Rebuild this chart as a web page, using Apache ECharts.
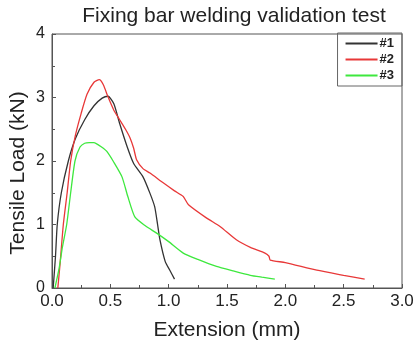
<!DOCTYPE html>
<html><head><meta charset="utf-8">
<script src="https://cdn.jsdelivr.net/npm/echarts@6/dist/echarts.min.js"></script>
<style>html,body{margin:0;padding:0;background:#fff}#c{width:415px;height:349px}</style>
</head><body><div id="c"></div>
<script>
var s1x = [0.01,0.03,0.045,0.08,0.14,0.2,0.28,0.36,0.43,0.48,0.53,0.58,0.645,0.70,0.78,0.84,0.88,0.905,0.925,0.97,1.01,1.05];
var s1y = [0,0.5,1.0,1.5,2.0,2.35,2.65,2.87,2.99,3.02,2.9,2.59,2.22,1.96,1.75,1.49,1.28,1.0,0.76,0.42,0.28,0.14];
var s2x = [0.05,0.07,0.097,0.13,0.16,0.2,0.25,0.3,0.36,0.405,0.44,0.48,0.53,0.58,0.63,0.67,0.70,0.725,0.78,0.84,0.95,1.05,1.125,1.17,1.326,1.44,1.58,1.7,1.825,1.86,1.87,2.0,2.27,2.5,2.68];
var s2y = [0,0.4,1.0,1.5,2.0,2.4,2.75,3.05,3.24,3.28,3.2,3.01,2.8,2.65,2.5,2.36,2.2,2.02,1.88,1.81,1.66,1.53,1.44,1.31,1.10,0.97,0.76,0.64,0.55,0.5,0.44,0.40,0.28,0.2,0.14];
var s3x = [0.025,0.06,0.09,0.126,0.16,0.197,0.24,0.28,0.32,0.36,0.40,0.44,0.47,0.53,0.60,0.65,0.71,0.8,0.9,1.0,1.125,1.25,1.41,1.55,1.70,1.8,1.91];
var s3y = [0,0.3,0.65,1.0,1.5,2.0,2.22,2.28,2.29,2.29,2.25,2.2,2.15,1.98,1.75,1.44,1.12,0.98,0.86,0.73,0.55,0.45,0.34,0.27,0.2,0.17,0.14];
var names = ['#1','#2','#3'];
var colors = ['#333333','#e83838','#3ee83e'];
var yTitle = 'Tensile Load (kN)';
function pairs(xs, ys){ return xs.map(function(x,i){ return [x, ys[i]]; }); }
var ff = 'Liberation Sans, Arial, sans-serif';
var chart = echarts.init(document.getElementById('c'));
chart.setOption({
  animation: false,
  title: { text: 'Fixing bar welding validation test', left: 229, textAlign: 'center', top: 1,
    textStyle: { fontFamily: ff, fontSize: 21, fontWeight: 'normal', color: '#222' } },
  grid: { left: 52, right: 13, top: 34, bottom: 61, show: true, borderColor: '#555', borderWidth: 1,
    containLabel: false, outerBoundsMode: 'none' },
  graphic: [{
    type: 'text', x: 18, y: 173, rotation: Math.PI / 2,
    style: { text: yTitle, fontFamily: ff, fontSize: 21, fill: '#222', align: 'center', verticalAlign: 'middle' }
  }],
  legend: {
    right: 13, top: 33, orient: 'vertical', itemGap: 3, itemWidth: 32, itemHeight: 2,
    icon: 'rect', borderColor: '#666', borderWidth: 1, padding: [4, 8, 4, 8],
    textStyle: { fontFamily: ff, fontSize: 13, fontWeight: 'bold', color: '#222', padding: [0,0,0,-3] },
    data: names
  },
  xAxis: {
    type: 'value', min: 0, max: 3, interval: 0.5,
    name: 'Extension (mm)', nameLocation: 'middle', nameGap: 32,
    nameTextStyle: { fontFamily: ff, fontSize: 21, color: '#222' },
    axisLine: { show: true, lineStyle: { color: '#555' } },
    axisTick: { show: true, inside: true, length: 4, lineStyle: { color: '#555' } },
    minorTick: { show: true, splitNumber: 2, length: 3, lineStyle: { color: '#555' } },
    splitLine: { show: false },
    axisLabel: { fontFamily: ff, fontSize: 17, color: '#222', margin: 5,
      formatter: function(v){ return v.toFixed(1); } }
  },
  yAxis: {
    type: 'value', min: 0, max: 4, interval: 1,
    axisLine: { show: true, lineStyle: { color: '#555' } },
    axisTick: { show: true, inside: true, length: 4, lineStyle: { color: '#555' } },
    minorTick: { show: true, splitNumber: 2, length: 3, lineStyle: { color: '#555' } },
    splitLine: { show: false },
    axisLabel: { fontFamily: ff, fontSize: 16, color: '#222', margin: 7 }
  },
  series: [
    { name: names[0], type: 'line', data: pairs(s1x, s1y), symbol: 'none', smooth: 0.2,
      lineStyle: { color: colors[0], width: 1.3 }, itemStyle: { color: colors[0] } },
    { name: names[1], type: 'line', data: pairs(s2x, s2y), symbol: 'none', smooth: 0.2,
      lineStyle: { color: colors[1], width: 1.3 }, itemStyle: { color: colors[1] } },
    { name: names[2], type: 'line', data: pairs(s3x, s3y), symbol: 'none', smooth: 0.2,
      lineStyle: { color: colors[2], width: 1.3 }, itemStyle: { color: colors[2] } }
  ]
});
</script></body></html>
